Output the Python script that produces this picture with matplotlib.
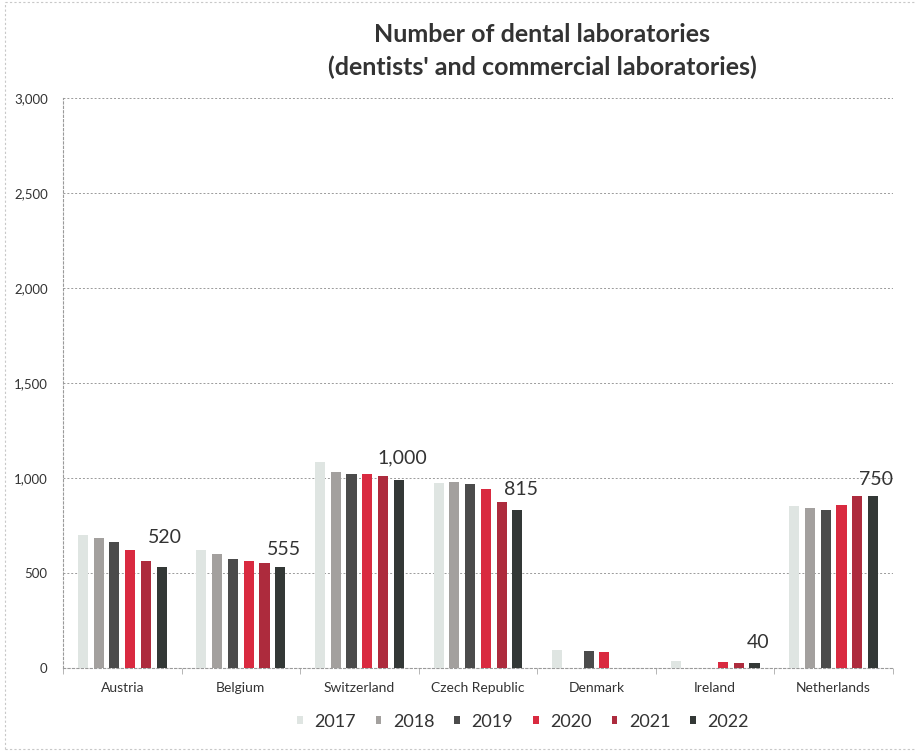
import matplotlib.pyplot as plt
from matplotlib.lines import Line2D
import numpy as np

plt.rcParams["font.family"] = ["Lato", "DejaVu Sans"]

countries = ["Austria", "Belgium", "Switzerland", "Czech Republic",
             "Denmark", "Ireland", "Netherlands"]
years = ["2017", "2018", "2019", "2020", "2021", "2022"]

# values, one list per year (0 = no bar)
v2017 = [701, 621, 1082, 972, 96, 38, 851]
v2018 = [682, 602, 1030, 977, 0, 0, 842]
v2019 = [663, 575, 1023, 970, 88, 0, 833]
v2020 = [623, 561, 1023, 944, 82, 30, 858]
v2021 = [561, 553, 1012, 875, 0, 24, 907]
v2022 = [533, 533, 991, 830, 0, 26, 907]
series = [v2017, v2018, v2019, v2020, v2021, v2022]

# the printed labels beside each group
label_text = ["520", "555", "1,000", "815", "", "40", "750"]
label_y = [688, 623, 1104, 941, 0, 133, 994]

colors = ["#dfe5e2", "#a3a09e", "#4b4b4b", "#d92a40", "#ad2b3d", "#333836"]

fig = plt.figure(figsize=(9.16, 7.51), dpi=100)
ax = fig.add_axes([0.0688, 0.1105, 0.906, 0.759])

x = np.arange(len(countries))
slot = 0.133
width = 0.085
for i, (yr, vals) in enumerate(zip(years, series)):
    pos = x + (i - 2.5) * slot
    vals = np.array(vals, dtype=float)
    mask = vals > 0
    ax.bar(pos[mask], vals[mask], width=width, color=colors[i], label=yr, zorder=3)

for xi, t, yv in zip(x, label_text, label_y):
    if t:
        ax.text(xi + 0.36, yv, t, ha="center", va="center", fontsize=14,
                color="#333333", zorder=4)

ax.set_xlim(-0.5, len(countries) - 0.5)
ax.set_ylim(0, 3000)
ax.set_yticks(np.arange(0, 3001, 500))
ax.set_yticklabels([f"{v:,}" for v in range(0, 3001, 500)])
ax.set_xticks(x)
ax.set_xticklabels(countries)
ax.set_xticks(np.arange(-0.5, len(countries)), minor=True)
ax.tick_params(axis="x", which="major", length=0, pad=10, labelsize=10,
               labelcolor="#333333")
ax.tick_params(axis="x", which="minor", length=4, color="#aaaaaa")
ax.tick_params(axis="y", length=0, pad=11, labelsize=9.5, labelcolor="#333333")

ax.grid(axis="y", linestyle=(0, (2, 2)), color="#9a9a9a", linewidth=0.7, zorder=0)
for side in ["top", "right"]:
    ax.spines[side].set_visible(False)
for side in ["left", "bottom"]:
    ax.spines[side].set_linestyle((0, (2, 2)))
    ax.spines[side].set_color("#9a9a9a")
    ax.spines[side].set_linewidth(0.8)

fig.text(0.592, 0.969, "Number of dental laboratories\n(dentists' and commercial laboratories)",
         ha="center", va="top", fontsize=18, fontweight="bold", color="#333333",
         linespacing=1.5)

leg = fig.legend(loc="center", bbox_to_anchor=(0.571, 0.039), ncol=6, frameon=False,
                 fontsize=13, handlelength=0.3, handleheight=0.3,
                 columnspacing=1.1, handletextpad=0.65)
for t in leg.get_texts():
    t.set_color("#333333")

# faint scan border (left, top, bottom)
bc = dict(color="#c8c8c8", linestyle=(0, (2, 2)), linewidth=0.8,
          transform=fig.transFigure)
fig.add_artist(Line2D([0.0055, 0.0055], [0.002, 0.998], **bc))
fig.add_artist(Line2D([0.0055, 0.999], [0.998, 0.998], **bc))
fig.add_artist(Line2D([0.0055, 0.999], [0.002, 0.002], **bc))

fig.savefig("out.png", dpi=100)
